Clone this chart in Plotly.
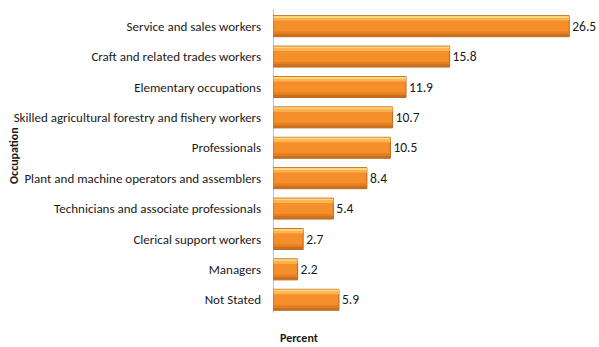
import plotly.graph_objects as go

categories = [
    "Service and sales workers",
    "Craft and related trades workers",
    "Elementary occupations",
    "Skilled agricultural forestry and fishery workers",
    "Professionals",
    "Plant and machine operators and assemblers",
    "Technicians and associate professionals",
    "Clerical support workers",
    "Managers",
    "Not Stated",
]
values = [26.5, 15.8, 11.9, 10.7, 10.5, 8.4, 5.4, 2.7, 2.2, 5.9]

FONT = "Carlito, Calibri, Lato, sans-serif"
BAR_W = 0.69

W, H = 599, 347
# plot area in pixels: x 273..586, y 11..315
L, R, T, B = 273, 13, 11, 32
pw = W - L - R
ph = H - T - B

fig = go.Figure()

fig.add_trace(go.Bar(
    x=values, y=categories, orientation="h", width=BAR_W,
    marker=dict(color="#F58F2A", line=dict(color="#B9651E", width=1)),
    text=[f"{v:.1f}" for v in values], textposition="outside",
    textfont=dict(family=FONT, size=13.5, color="#1a1a1a"),
    cliponaxis=False, hoverinfo="skip",
))

bands = [
    (-BAR_W / 2 + 0.01, 0.07, "#FFD67A"),
    (-BAR_W / 2 + 0.08, 0.08, "#FDB455"),
    (BAR_W / 2 - 0.17, 0.08, "#E47F22"),
    (BAR_W / 2 - 0.09, 0.08, "#C9701F"),
]
for off, w, col in bands:
    fig.add_trace(go.Bar(
        x=values, y=categories, orientation="h", width=w, offset=off,
        marker=dict(color=col, line=dict(width=0)),
        hoverinfo="skip", showlegend=False,
    ))

fig.update_layout(
    width=W, height=H,
    margin=dict(l=L, r=R, t=T, b=B, autoexpand=False),
    paper_bgcolor="white", plot_bgcolor="white",
    barmode="overlay", showlegend=False,
    font=dict(family=FONT, size=13, color="#1a1a1a"),
    xaxis=dict(range=[0, 28], showgrid=False, zeroline=False, showticklabels=False,
               ticks="", showline=False, automargin=False),
    yaxis=dict(autorange="reversed", showgrid=False, zeroline=False, ticks="",
               showline=False, automargin=False,
               tickfont=dict(family=FONT, size=13, color="#1a1a1a"), ticklabelstandoff=11),
    shapes=[dict(type="line", xref="x", yref="paper", x0=0, x1=0,
                 y0=2 / ph, y1=1 + 2 / ph, line=dict(color="#888888", width=1),
                 layer="above")],
    annotations=[
        dict(text="<b>Percent</b>", x=(299 - L) / pw, y=1 - (338 - T) / ph,
             xref="paper", yref="paper", xanchor="center", yanchor="middle",
             showarrow=False, font=dict(family=FONT, size=12)),
        dict(text="<b>Occupation</b>", x=(14 - L) / pw, y=1 - (156 - T) / ph,
             xref="paper", yref="paper", xanchor="center", yanchor="middle",
             textangle=-90, showarrow=False, font=dict(family=FONT, size=12)),
    ],
)

fig.write_html("out.html", config={"displayModeBar": False, "staticPlot": True},
               post_script="document.body.style.margin='0';")
